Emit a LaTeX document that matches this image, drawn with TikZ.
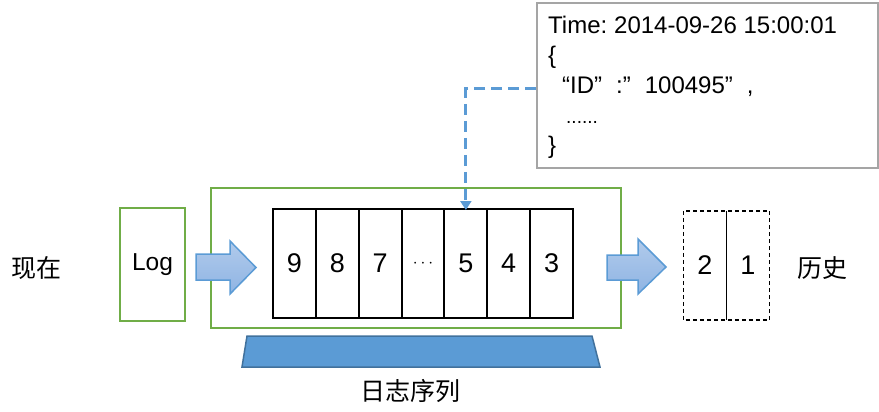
\documentclass[tikz,border=0pt]{standalone}
\usepackage{fontspec}
\setmainfont{Liberation Sans}
\newfontfamily\cjk{Noto Sans CJK SC}
\usetikzlibrary{arrows.meta,shapes.arrows}
\definecolor{lgreen}{RGB}{112,173,71}
\definecolor{bblue}{RGB}{91,155,213}
\definecolor{bdark}{RGB}{65,113,156}
\definecolor{afill}{RGB}{143,180,227}
\definecolor{gbord}{RGB}{165,165,165}
\tikzset{
  greenbox/.style={draw=lgreen,line width=2pt,inner sep=0pt},
  cellbox/.style={draw=black,line width=2pt,minimum width=42.857pt,minimum height=109pt,inner sep=0pt,font=\fontsize{27}{30}\selectfont},
  histbox/.style={minimum width=43pt,minimum height=109pt,inner sep=0pt,font=\fontsize{27}{30}\selectfont},
  bigarrow/.style={top color=afill!70!white,bottom color=afill,draw=bblue,line width=1.5pt},
  cjklabel/.style={font=\cjk\fontsize{25}{28}\selectfont,inner sep=0pt},
}
\begin{document}
\begin{tikzpicture}[x=1pt,y=-1pt]
\useasboundingbox (0,0) rectangle (879,412);
% green frames
\node[greenbox,minimum width=410pt,minimum height=140pt] (frame) at (416,258) {};
\node[greenbox,minimum width=65pt,minimum height=113pt,font=\fontsize{24.5}{28}\selectfont] (log) at (152.5,264.5) {\raisebox{-2pt}{Log}};
% cells
\foreach \i/\t in {1/9,2/8,3/7,4/{\fontsize{19}{19}\selectfont$\cdots$},5/5,6/4,7/3}{
  \node[cellbox] (c\i) at ({273+(\i-0.5)*42.857},263.5) {\t};
}
% history cells
\node[histbox] (h2) at (705,265.5) {2};
\node[histbox] (h1) at (748,265.5) {1};
\draw[line width=1.5pt,dash pattern=on 4pt off 3pt] (h2.north west) rectangle (h1.south east);
\draw[line width=1pt] (h2.north east) -- (h2.south east);
% labels
\node[cjklabel] (now) at (37,268) {现在};
\node[cjklabel] (hist) at (822,268) {历史};
\node[cjklabel] (seq) at (410,391) {日志序列};
% block arrows
\path[bigarrow] (196,254) -- (230,254) -- (230,241) -- (256,267.5) -- (230,294) -- (230,280) -- (196,280) -- cycle;
\path[bigarrow] (607,255) -- (638,255) -- (638,239) -- (666,267) -- (638,294) -- (638,280) -- (607,280) -- cycle;
% trapezoid
\path[fill=bblue,draw=bdark,line width=1.5pt] (247,336) -- (592,336) -- (600,367) -- (242,367) -- cycle;
% text box
\node[draw=gbord,line width=2pt,minimum width=341pt,minimum height=165pt,inner sep=0pt] (tb) at (707.5,85.5) {};
\node[anchor=north west,align=left,inner sep=0pt,font=\fontsize{24}{30}\selectfont] (tbtext) at (548,16) {%
Time:\hspace{-2pt} 2014-09-26 15:00:01\\
\{\\
\hspace{14pt}“ID”\hspace{14pt}:”\hspace{14pt}100495”\hspace{14pt},\\
\hspace{18pt}{\fontsize{19}{19}\selectfont ......}\\
\}};
% connector
\coordinate (cstart) at (tb.west |- 0,89);
\draw[bblue,line width=3pt,dash pattern=on 11pt off 6pt,-{Triangle[width=11pt,length=9pt]}] (cstart) -| ([yshift=-2pt]c5.north);
\end{tikzpicture}
\end{document}
